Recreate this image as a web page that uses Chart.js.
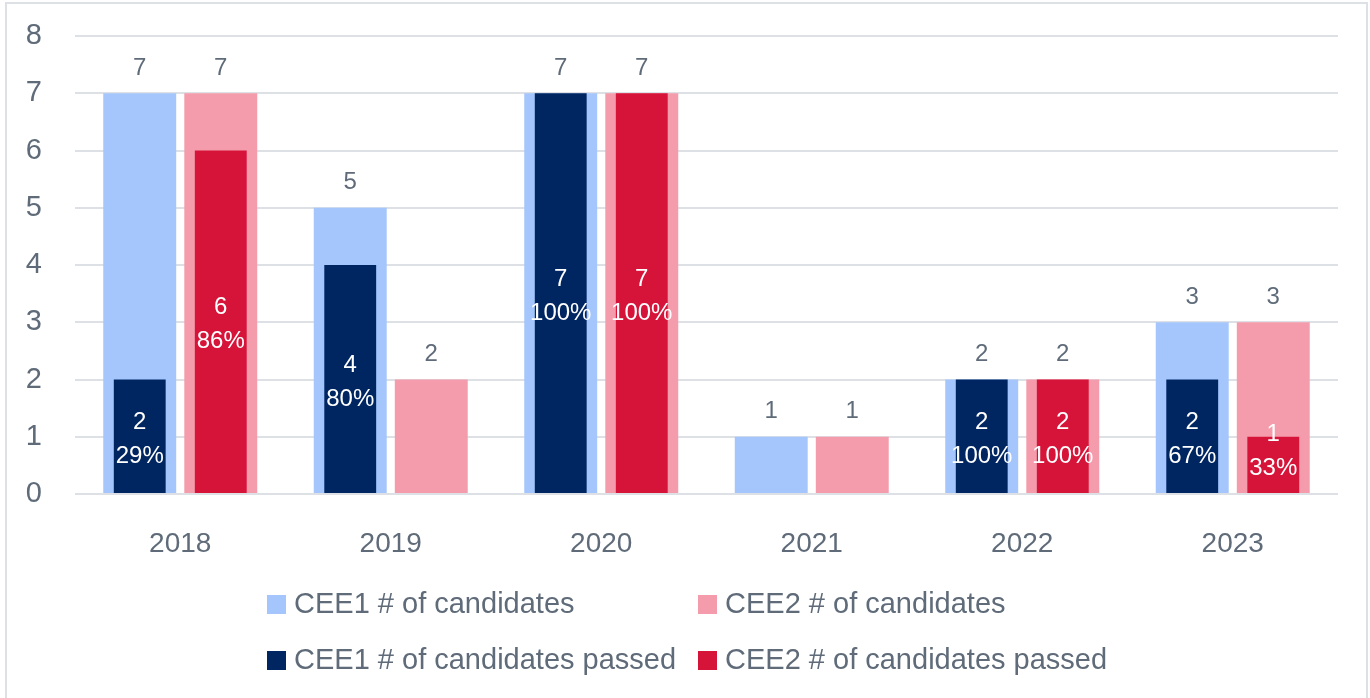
<!DOCTYPE html>
<html>
<head>
<meta charset="utf-8">
<script src="https://cdn.jsdelivr.net/npm/chart.js@4"></script>
<style>
  html, body { margin: 0; padding: 0; background: #fff; overflow: hidden; }
  #wrap { width: 1370px; height: 698px; }
</style>
</head>
<body>
<div id="wrap"><canvas id="examChart" width="1370" height="698"></canvas></div>
<script>
const years = ['2018', '2019', '2020', '2021', '2022', '2023'];
const cee1Candidates = [7, 5, 7, 1, 2, 3];
const cee2Candidates = [7, 2, 7, 1, 2, 3];
const cee1Passed = [2, 4, 7, 0, 2, 2];
const cee2Passed = [6, 0, 7, 0, 2, 1];
const yTicks = [0, 1, 2, 3, 4, 5, 6, 7, 8];

const textGrey = '#5f6b79';
const fontFamily = '"Liberation Sans", Arial, sans-serif';

// value on top of the wide bars, value + pass rate inside the narrow ones
const barLabels = {
    id: 'barLabels',
    afterDatasetsDraw(chart) {
        const ctx = chart.ctx;
        ctx.save();
        ctx.textAlign = 'center';
        ctx.textBaseline = 'middle';
        chart.data.datasets.forEach((ds, i) => {
            const meta = chart.getDatasetMeta(i);
            meta.data.forEach((bar, j) => {
                const v = ds.data[j];
                if (!v) return;
                if (ds.kind === 'total') {
                    ctx.fillStyle = textGrey;
                    ctx.font = '24px ' + fontFamily;
                    ctx.fillText(v, bar.x, bar.y - 25);
                } else {
                    const total = ds.totals[j];
                    const pct = Math.round(v / total * 100) + '%';
                    const mid = Math.min((bar.y + bar.base) / 2 + 3, bar.base - 42);
                    ctx.fillStyle = '#ffffff';
                    ctx.font = '24px ' + fontFamily;
                    ctx.fillText(v, bar.x, mid - 17);
                    ctx.fillText(pct, bar.x, mid + 17);
                }
            });
        });
        ctx.restore();
    }
};

// two column legend + outer frame
const legendAndFrame = {
    id: 'legendAndFrame',
    afterDraw(chart) {
        const ctx = chart.ctx;
        ctx.save();
        ctx.strokeStyle = '#dde1e6';
        ctx.lineWidth = 2;
        ctx.strokeRect(6, 3, 1361, 720);

        const items = [
            { label: 'CEE1 # of candidates', color: '#a4c6fc', x: 267, y: 604 },
            { label: 'CEE2 # of candidates', color: '#f49cab', x: 698, y: 604 },
            { label: 'CEE1 # of candidates passed', color: '#002662', x: 267, y: 660 },
            { label: 'CEE2 # of candidates passed', color: '#d6143a', x: 698, y: 660 }
        ];
        ctx.font = '29px ' + fontFamily;
        ctx.textBaseline = 'middle';
        ctx.textAlign = 'left';
        items.forEach(it => {
            ctx.fillStyle = it.color;
            ctx.fillRect(it.x, it.y - 9, 19, 19);
            ctx.fillStyle = textGrey;
            ctx.fillText(it.label, it.x + 27, it.y + 1);
        });
        ctx.restore();
    }
};

const catPct = 0.77;

new Chart(document.getElementById('examChart'), {
    type: 'bar',
    data: {
        labels: years,
        datasets: [
            {
                label: 'CEE1 # of candidates passed',
                data: cee1Passed,
                totals: cee1Candidates,
                kind: 'passed',
                stack: 'cee1',
                backgroundColor: '#002662',
                barPercentage: 0.64,
                categoryPercentage: catPct,
                order: 0
            },
            {
                label: 'CEE2 # of candidates passed',
                data: cee2Passed,
                totals: cee2Candidates,
                kind: 'passed',
                stack: 'cee2',
                backgroundColor: '#d6143a',
                barPercentage: 0.64,
                categoryPercentage: catPct,
                order: 0
            },
            {
                label: 'CEE1 # of candidates',
                data: cee1Candidates,
                kind: 'total',
                stack: 'cee1',
                backgroundColor: '#a4c6fc',
                barPercentage: 0.9,
                categoryPercentage: catPct,
                order: 1
            },
            {
                label: 'CEE2 # of candidates',
                data: cee2Candidates,
                kind: 'total',
                stack: 'cee2',
                backgroundColor: '#f49cab',
                barPercentage: 0.9,
                categoryPercentage: catPct,
                order: 1
            }
        ]
    },
    options: {
        responsive: false,
        animation: false,
        layout: {
            padding: { left: 0, top: 36, right: 32, bottom: 0 }
        },
        plugins: {
            legend: { display: false },
            tooltip: { enabled: false }
        },
        scales: {
            x: {
                stacked: true,
                grid: { display: false },
                border: { display: false },
                ticks: {
                    color: textGrey,
                    font: { size: 28, family: fontFamily },
                    padding: 25,
                    maxRotation: 0
                },
                afterFit(scale) {
                    scale.height = 204;
                    scale.paddingLeft = 0;
                    scale.paddingRight = 0;
                }
            },
            y: {
                stacked: false,
                min: 0,
                max: 8,
                afterBuildTicks(scale) {
                    scale.ticks = yTicks.map(v => ({ value: v }));
                },
                grid: {
                    color: '#dde1e6',
                    lineWidth: 2,
                    drawTicks: false
                },
                border: { display: false },
                ticks: {
                    color: textGrey,
                    font: { size: 29, family: fontFamily },
                    padding: 33
                },
                afterFit(scale) {
                    scale.width = 75;
                    scale.paddingTop = 0;
                    scale.paddingBottom = 0;
                }
            }
        }
    },
    plugins: [barLabels, legendAndFrame]
});
</script>
</body>
</html>
